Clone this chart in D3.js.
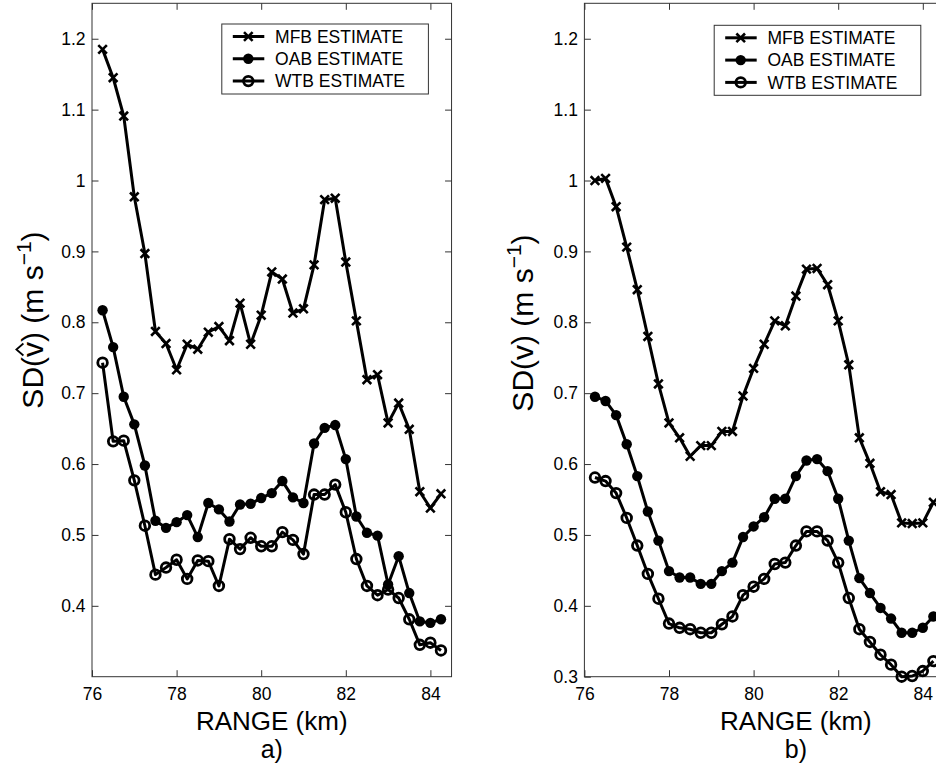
<!DOCTYPE html>
<html>
<head>
<meta charset="utf-8">
<title>SD estimates vs range</title>
<script src="https://d3js.org/d3.v7.min.js"></script>
<style>
body { margin: 0; background: #fff; overflow: hidden; }
svg { display: block; }
text { font-family: "Liberation Sans", Arial, Helvetica, sans-serif; fill: #000; }
.axis path { display: none; }
.axis line { stroke: #333; stroke-width: 1; }
.axis text { font-size: 17.5px; }
</style>
</head>
<body>
<svg id="chart" width="936" height="771"></svg>
<script>
// range gates (km)
const rangeKm = [76.25, 76.5, 76.75, 77, 77.25, 77.5, 77.75, 78, 78.25, 78.5, 78.75,
  79, 79.25, 79.5, 79.75, 80, 80.25, 80.5, 80.75, 81, 81.25, 81.5, 81.75,
  82, 82.25, 82.5, 82.75, 83, 83.25, 83.5, 83.75, 84, 84.25];

// panel a) SD of estimated velocity
const mfbA = [1.185, 1.145, 1.091, 0.977, 0.897, 0.787, 0.770, 0.733, 0.769, 0.762, 0.786,
  0.794, 0.774, 0.827, 0.769, 0.810, 0.871, 0.861, 0.813, 0.819, 0.881, 0.973, 0.975,
  0.885, 0.802, 0.719, 0.726, 0.658, 0.686, 0.649, 0.561, 0.538, 0.558];
const oabA = [0.817, 0.765, 0.695, 0.656, 0.598, 0.520, 0.510, 0.518, 0.528, 0.497, 0.545,
  0.536, 0.519, 0.543, 0.544, 0.552, 0.559, 0.576, 0.553, 0.545, 0.629, 0.651, 0.655,
  0.607, 0.526, 0.503, 0.499, 0.430, 0.470, 0.418, 0.378, 0.376, 0.381];
const wtbA = [0.743, 0.632, 0.633, 0.577, 0.513, 0.444, 0.454, 0.465, 0.438, 0.464, 0.463,
  0.428, 0.494, 0.480, 0.496, 0.484, 0.484, 0.504, 0.493, 0.473, 0.557, 0.557, 0.571,
  0.532, 0.466, 0.428, 0.415, 0.423, 0.411, 0.381, 0.345, 0.348, 0.337];

// panel b) SD of velocity
const mfbB = [1.000, 1.003, 0.963, 0.906, 0.846, 0.780, 0.713, 0.658, 0.637, 0.611, 0.626,
  0.626, 0.646, 0.646, 0.696, 0.735, 0.769, 0.802, 0.795, 0.837, 0.875, 0.876, 0.853,
  0.802, 0.740, 0.637, 0.601, 0.561, 0.557, 0.517, 0.516, 0.517, 0.546];
const oabB = [0.695, 0.689, 0.669, 0.628, 0.583, 0.533, 0.492, 0.449, 0.440, 0.440, 0.431,
  0.431, 0.449, 0.461, 0.497, 0.512, 0.525, 0.551, 0.551, 0.583, 0.605, 0.607, 0.590,
  0.551, 0.492, 0.439, 0.418, 0.397, 0.382, 0.362, 0.362, 0.369, 0.385];
const wtbB = [0.581, 0.576, 0.559, 0.524, 0.485, 0.445, 0.410, 0.375, 0.369, 0.367, 0.362,
  0.362, 0.374, 0.385, 0.415, 0.427, 0.438, 0.459, 0.461, 0.485, 0.505, 0.505, 0.492,
  0.461, 0.411, 0.367, 0.349, 0.331, 0.317, 0.300, 0.301, 0.308, 0.322];

const seriesNames = ["MFB ESTIMATE", "OAB ESTIMATE", "WTB ESTIMATE"];
const markerKinds = ["x", "dot", "ring"];
const xTicks = [76, 78, 80, 82, 84];
const yTicksA = [0.4, 0.5, 0.6, 0.7, 0.8, 0.9, 1, 1.1, 1.2];
const yTicksB = [0.3, 0.4, 0.5, 0.6, 0.7, 0.8, 0.9, 1, 1.1, 1.2];

const svg = d3.select("#chart");
const plotTop = 3.3, plotBottom = 676.7;
const pxPerKm = 42.3;

function marker(g, kind, cx, cy) {
  if (kind == "x") {
    const s = 4.3;
    g.append("path")
      .attr("d", `M${cx - s},${cy - s}L${cx + s},${cy + s}M${cx - s},${cy + s}L${cx + s},${cy - s}`)
      .attr("stroke", "#000").attr("stroke-width", 2.6).attr("fill", "none");
  } else if (kind == "dot") {
    g.append("circle").attr("cx", cx).attr("cy", cy).attr("r", 5.2).attr("fill", "#000");
  } else {
    g.append("circle").attr("cx", cx).attr("cy", cy).attr("r", 4.8)
      .attr("fill", "none").attr("stroke", "#000").attr("stroke-width", 2.8);
  }
}

function drawPanel(opts) {
  const x = d3.scaleLinear(opts.xDomain, [opts.left, opts.left + (opts.xDomain[1] - opts.xDomain[0]) * pxPerKm]);
  const y = d3.scaleLinear([0.3, 1.25], [plotBottom, plotTop]);
  const g = svg.append("g");
  const [x0, x1] = x.range();

  // box
  g.append("rect").attr("x", x0).attr("y", plotTop).attr("width", x1 - x0).attr("height", plotBottom - plotTop)
    .attr("fill", "none").attr("stroke", "#333").attr("stroke-width", 1);

  g.append("g").attr("class", "axis").attr("transform", `translate(0,${plotBottom})`)
    .call(d3.axisBottom(x).tickValues(xTicks).tickSizeInner(-6.5).tickSizeOuter(0).tickPadding(11)
      .tickFormat(d3.format("d")));
  g.append("g").attr("class", "axis").attr("transform", `translate(0,${plotTop})`)
    .call(d3.axisTop(x).tickValues(xTicks).tickSizeInner(-6.5).tickSizeOuter(0).tickFormat(""));
  g.append("g").attr("class", "axis").attr("transform", `translate(${x0},0)`)
    .call(d3.axisLeft(y).tickValues(opts.yTicks).tickSizeInner(-6.5).tickSizeOuter(0).tickPadding(6.5)
      .tickFormat(d => String(+d.toFixed(1))));
  g.append("g").attr("class", "axis").attr("transform", `translate(${x1},0)`)
    .call(d3.axisRight(y).tickValues(opts.yTicks).tickSizeInner(-6.5).tickSizeOuter(0).tickFormat(""));

  const line = d3.line().x((d, i) => x(rangeKm[i])).y(d => y(d));
  opts.series.forEach((vals, si) => {
    g.append("path").datum(vals).attr("d", line)
      .attr("fill", "none").attr("stroke", "#000").attr("stroke-width", 3).attr("stroke-linejoin", "round");
    const mg = g.append("g");
    vals.forEach((v, i) => marker(mg, markerKinds[si], x(rangeKm[i]), y(v)));
  });

  // legend
  const lx = x0 + 129.8, ly = opts.legendTop;
  const lg = g.append("g");
  lg.append("rect").attr("x", lx).attr("y", ly).attr("width", 206.6).attr("height", 70)
    .attr("fill", "#fff").attr("stroke", "#333").attr("stroke-width", 1);
  seriesNames.forEach((name, i) => {
    const ry = ly + 12.5 + i * 22.3;
    lg.append("line").attr("x1", lx + 11).attr("x2", lx + 42.5).attr("y1", ry).attr("y2", ry)
      .attr("stroke", "#000").attr("stroke-width", 3);
    marker(lg, markerKinds[i], lx + 26.5, ry);
    lg.append("text").attr("x", lx + 53.3).attr("y", ry + 6.3).attr("font-size", "17.5px").text(name);
  });

  // titles
  const cx = (x0 + x1) / 2;
  g.append("text").attr("x", cx).attr("y", 729.5).attr("text-anchor", "middle").attr("font-size", "26px")
    .text("RANGE (km)");
  g.append("text").attr("x", cx).attr("y", 758).attr("text-anchor", "middle").attr("font-size", "25px")
    .text(opts.tag);

  const yg = g.append("g").attr("transform", `translate(${opts.ylabX},${opts.ylabY}) rotate(-90)`);
  const yl = yg.append("text").attr("text-anchor", "middle").attr("font-size", "30px");
  yl.append("tspan").text("SD(v) (m s");
  yl.append("tspan").attr("font-size", "21px").attr("dy", "-12").text("\u22121");
  yl.append("tspan").attr("dy", "12").text(")");
  if (opts.hat) {
    // circumflex over the v (char index 3)
    const b = yl.node().getExtentOfChar(3);
    const hx0 = b.x + 1.5, hx1 = b.x + b.width - 1.5, hy = -0.52 * 30 - 4;
    yg.append("path")
      .attr("d", `M${hx0},${hy}L${(hx0 + hx1) / 2},${hy - 7}L${hx1},${hy}`)
      .attr("fill", "none").attr("stroke", "#000").attr("stroke-width", 1.8);
  }
}

drawPanel({
  left: 92, xDomain: [76, 84.5], yTicks: yTicksA, series: [mfbA, oabA, wtbA],
  legendTop: 24, tag: "a)", hat: true, ylabX: 43, ylabY: 320
});
drawPanel({
  left: 584.4, xDomain: [76, 86], yTicks: yTicksB, series: [mfbB, oabB, wtbB],
  legendTop: 25.3, tag: "b)", hat: false, ylabX: 532.5, ylabY: 323
});
</script>
</body>
</html>
